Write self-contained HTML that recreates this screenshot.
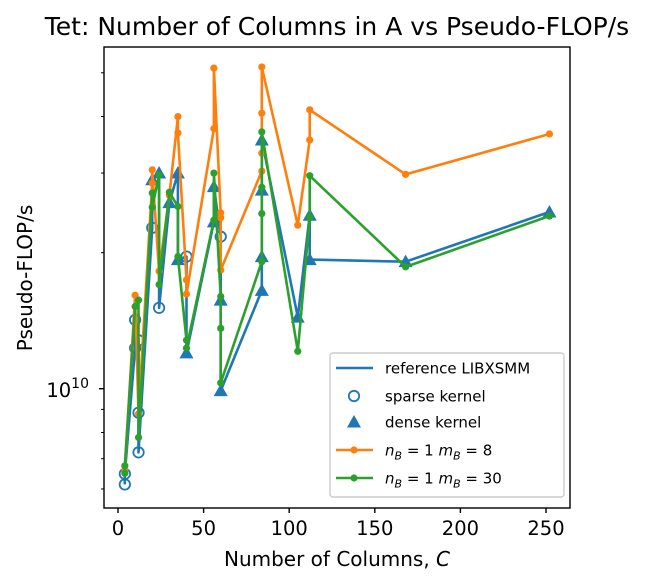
<!DOCTYPE html>
<html><head><meta charset="utf-8"><style>
body{margin:0;background:#fff;}
svg{display:block;font-family:"DejaVu Sans","Liberation Sans",sans-serif;}
</style></head><body>
<svg id="chart" width="645" height="585" viewBox="0 0 645 585"></svg>
<script>
// Data (values in units of 1e10 FLOP/s)
const refC = [4,4,10,10,12,12,12,20,20,24,24,30,35,35,40,40,56,56,60,60,60,84,84,84,84,105,112,112,168,252];
const refV = [0.614,0.648,1.23,1.42,1.28,0.885,0.723,2.27,2.9,3.0,1.51,2.58,3.0,1.93,1.96,1.2,2.34,2.8,2.17,1.57,0.99,1.65,1.96,2.75,3.55,1.44,2.42,1.93,1.91,2.46];
const refKind = ['s','s','s','s','s','s','s','s','d','d','s','d','d','d','s','d','d','d','s','d','d','d','d','d','d','d','d','d','d','d'];
const orC = [4,10,12,20,20,24,30,35,35,40,40,56,56,60,60,60,84,84,84,84,105,112,112,168,252];
const orV = [0.66,1.61,0.88,2.85,3.05,1.82,2.68,4.0,3.68,1.74,1.62,3.76,5.12,2.45,2.39,1.83,3.03,3.32,4.07,5.15,2.3,3.55,4.14,2.98,3.66];
const grC = [4,4,10,12,12,20,20,24,24,30,35,35,40,40,56,56,60,60,60,84,84,84,84,105,112,112,168,252];
const grV = [0.65,0.675,1.52,1.57,0.78,2.71,2.52,2.97,1.7,2.72,2.53,1.96,1.28,1.23,2.36,3.0,1.6,1.36,1.03,1.91,2.44,2.79,3.7,1.21,2.39,2.96,1.86,2.41];
const xTicks = [0,50,100,150,200,250];

const NS='http://www.w3.org/2000/svg';
const svg=document.getElementById('chart');
const L=104,R=570,T=47,B=508;
function xs(c){return 118+1.712*c;}
function ys(v){return 388.7-452*Math.log10(v);}
function mk(tag,attrs,parent){const e=document.createElementNS(NS,tag);for(const k in attrs)e.setAttribute(k,attrs[k]);(parent||svg).appendChild(e);return e;}

let t=mk('text',{x:337,y:35,'text-anchor':'middle','font-size':'25',fill:'#000'});
t.textContent='Tet: Number of Columns in A vs Pseudo-FLOP/s';



const defs=mk('defs',{});
const cp=mk('clipPath',{id:'pc'},defs);mk('rect',{x:L,y:T,width:R-L,height:B-T},cp);
const plot=mk('g',{'clip-path':'url(#pc)'});



function pts(C,V){return C.map((c,i)=>xs(c).toFixed(1)+','+ys(V[i]).toFixed(1)).join(' ');}
let pl=mk('polyline',{points:pts(refC,refV),fill:'none',stroke:'#1f77b4','stroke-width':2.6,'stroke-linejoin':'round'},plot);


refC.forEach((c,i)=>{
  const x=xs(c),y=ys(refV[i]);
  let m;
  if(refKind[i]==='s'){m=mk('circle',{cx:x,cy:y,r:5.2,fill:'none',stroke:'#1f77b4','stroke-width':1.8},plot);
    }
  else{m=mk('polygon',{points:`${x},${y-7} ${x-7},${y+5.5} ${x+7},${y+5.5}`,fill:'#1f77b4'},plot);
    }
  
});
function series(C,V,col,name){
  let p=mk('polyline',{points:pts(C,V),fill:'none',stroke:col,'stroke-width':2.6,'stroke-linejoin':'round'},plot);
  
  
  C.forEach((c,i)=>{let d=mk('circle',{cx:xs(c),cy:ys(V[i]),r:3.6,fill:col},plot);
    
    });
}
series(orC,orV,'#ff7f0e','nb1-mb8');
series(grC,grV,'#2ca02c','nb1-mb30');

let fr=mk('rect',{x:L,y:T,width:R-L,height:B-T,fill:'none',stroke:'#000','stroke-width':1.4});


xTicks.forEach(v=>{const x=xs(v);mk('line',{x1:x,x2:x,y1:B,y2:B+5,stroke:'#000','stroke-width':1.4});
  let tl=mk('text',{x:x,y:535,'text-anchor':'middle','font-size':'19.5'});tl.textContent=v;
  
  });
mk('line',{x1:L-5,x2:L,y1:ys(1),y2:ys(1),stroke:'#000','stroke-width':1.4});
[0.6,0.7,0.8,0.9,2,3,4,5].forEach(v=>{const y=ys(v);if(y>T&&y<B)mk('line',{x1:L-3,x2:L,y1:y,y2:y,stroke:'#000'});});
let yl=mk('text',{x:89,y:397,'text-anchor':'end','font-size':'19.5'});
yl.innerHTML='10<tspan dy="-9" font-size="14">10</tspan>';


let xt=mk('text',{x:337,y:566,'text-anchor':'middle','font-size':'20'});
xt.innerHTML='Number of Columns, <tspan font-style="italic">C</tspan>';


let yt=mk('text',{x:0,y:0,'text-anchor':'middle','font-size':'20',transform:'translate(32,278) rotate(-90)'});
yt.textContent='Pseudo-FLOP/s';



const lg=mk('g',{});


mk('rect',{x:330,y:353,width:234,height:144,rx:3,fill:'#fff','fill-opacity':0.8,stroke:'#ccc','stroke-width':1.4},lg);
const ey=[368,396,422,450,478];
const hx=354;
mk('line',{x1:336,x2:373,y1:ey[0],y2:ey[0],stroke:'#1f77b4','stroke-width':2.6},lg);
mk('circle',{cx:hx,cy:ey[1],r:5.2,fill:'none',stroke:'#1f77b4','stroke-width':1.8},lg);
mk('polygon',{points:`${hx},${ey[2]-7} ${hx-7},${ey[2]+5.5} ${hx+7},${ey[2]+5.5}`,fill:'#1f77b4'},lg);
mk('line',{x1:336,x2:373,y1:ey[3],y2:ey[3],stroke:'#ff7f0e','stroke-width':2.6},lg);
mk('circle',{cx:hx,cy:ey[3],r:3.6,fill:'#ff7f0e'},lg);
mk('line',{x1:336,x2:373,y1:ey[4],y2:ey[4],stroke:'#2ca02c','stroke-width':2.6},lg);
mk('circle',{cx:hx,cy:ey[4],r:3.6,fill:'#2ca02c'},lg);
const labs=['reference LIBXSMM','sparse kernel','dense kernel',
 '<tspan font-style="italic">n</tspan><tspan font-style="italic" font-size="11" dy="4">B</tspan><tspan dy="-4"> = 1 </tspan><tspan font-style="italic">m</tspan><tspan font-style="italic" font-size="11" dy="4">B</tspan><tspan dy="-4"> = 8</tspan>',
 '<tspan font-style="italic">n</tspan><tspan font-style="italic" font-size="11" dy="4">B</tspan><tspan dy="-4"> = 1 </tspan><tspan font-style="italic">m</tspan><tspan font-style="italic" font-size="11" dy="4">B</tspan><tspan dy="-4"> = 30</tspan>'];
const lnames=['legend-entry-reference','legend-entry-sparse','legend-entry-dense','legend-entry-mb8','legend-entry-mb30'];
labs.forEach((s,i)=>{let e=mk('text',{x:385,y:ey[i]+5.5,'font-size':'15'},lg);e.innerHTML=s;
  
  });
</script>
</body></html>
